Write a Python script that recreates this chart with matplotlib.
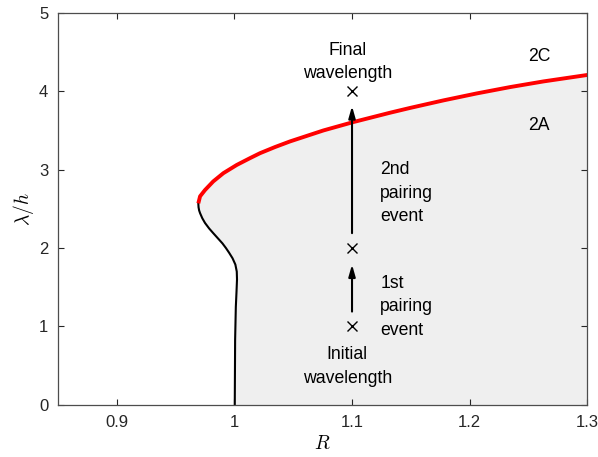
import matplotlib
matplotlib.use("Agg")
import matplotlib.pyplot as plt

plt.rcParams['font.family'] = ['Liberation Sans', 'DejaVu Sans']
plt.rcParams['mathtext.fontset'] = 'cm'

# stability boundary, lower (black) branch: lambda/h vs R
lam_black = [0.0, 0.83, 1.25, 1.45, 1.6, 1.7, 1.79, 1.87, 1.94, 2.0, 2.06, 2.12, 2.19, 2.25,
             2.32, 2.38, 2.445, 2.48, 2.52, 2.57]
R_black = [1.0003, 1.0006, 1.0012, 1.0018, 1.0022, 1.002, 1.0008, 0.9984, 0.9955, 0.9928,
           0.9898, 0.9862, 0.982, 0.9785, 0.975, 0.9727, 0.9708, 0.9700, 0.9695, 0.9693]

# upper (red) branch
lam_red = [2.57, 2.66, 2.74, 2.85, 2.955, 3.06, 3.147, 3.21, 3.288, 3.36, 3.50, 3.607, 3.726,
           3.787, 3.883, 3.972, 4.053, 4.125, 4.207]
R_red = [0.9693, 0.9708, 0.975, 0.982, 0.9906, 1.002, 1.0133, 1.0218, 1.0345, 1.0473, 1.0757,
         1.1012, 1.1324, 1.1494, 1.1777, 1.2061, 1.2345, 1.2628, 1.3]

# pairing sequence
R_pts = [1.1, 1.1, 1.1]
lam_pts = [1.0, 2.0, 4.0]

fig = plt.figure(figsize=(5.98, 4.57), dpi=100)
ax = fig.add_axes([0.097, 0.114, 0.885, 0.858])

lam_all = lam_black + lam_red[1:]
R_all = R_black + R_red[1:]
ax.fill_betweenx(lam_all, R_all, 1.3, color='#efefef', lw=0)

ax.plot(R_black, lam_black, color='k', lw=1.5)
ax.plot(R_red, lam_red, color='red', lw=2.8, solid_capstyle='butt')

ax.plot(R_pts, lam_pts, 'x', color='k', ms=7, mew=1.0)

arr = dict(arrowstyle='-|>,head_length=0.7,head_width=0.2', color='k', lw=1.5, shrinkA=0, shrinkB=0)
ax.annotate('', xy=(1.1, 1.79), xytext=(1.1, 1.19), arrowprops=arr)
ax.annotate('', xy=(1.1, 3.81), xytext=(1.1, 2.19), arrowprops=arr)

fs = 12.7
ls = 1.5
ax.text(1.096, 4.37, 'Final\nwavelength', ha='center', va='center', fontsize=fs, linespacing=ls)
ax.text(1.096, 0.49, 'Initial\nwavelength', ha='center', va='center', fontsize=fs, linespacing=ls)
ax.text(1.124, 2.70, '2nd\npairing\nevent', ha='left', va='center', fontsize=fs, linespacing=ls)
ax.text(1.124, 1.25, '1st\npairing\nevent', ha='left', va='center', fontsize=fs, linespacing=ls)
ax.text(1.259, 4.44, '2C', ha='center', va='center', fontsize=fs)
ax.text(1.259, 3.56, '2A', ha='center', va='center', fontsize=fs)

ax.set_xlim(0.85, 1.3)
ax.set_ylim(0, 5)
ax.set_xticks([0.9, 1.0, 1.1, 1.2, 1.3])
ax.set_xticklabels(['0.9', '1', '1.1', '1.2', '1.3'])
ax.set_yticks([0, 1, 2, 3, 4, 5])
ax.tick_params(direction='in', top=True, right=True, length=4, width=0.8,
               labelsize=12, colors='0.15', pad=7)
for s in ax.spines.values():
    s.set_color('0.3')
    s.set_linewidth(0.9)

ax.set_xlabel('$R$', fontsize=14, labelpad=4)
ax.set_ylabel('$\\lambda/h$', fontsize=14, labelpad=2)

fig.savefig('out.png', dpi=100)
